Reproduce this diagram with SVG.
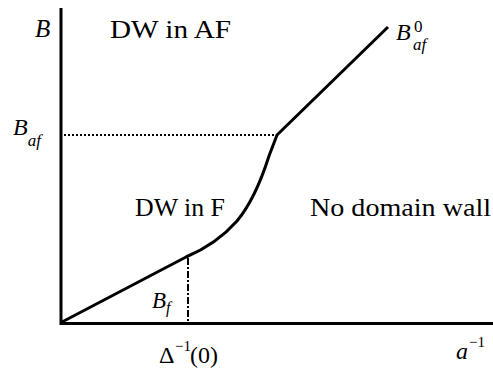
<svg xmlns="http://www.w3.org/2000/svg" width="493" height="369" viewBox="0 0 493 369">
<style>
.ax{stroke:#000;stroke-width:3;fill:none}
.cv{stroke:#000;stroke-width:3;fill:none;stroke-linejoin:miter}
text{font-family:"Times New Roman",Times,"Liberation Serif","Nimbus Roman","Nimbus Roman No9 L","Noto Serif","DejaVu Serif",FreeSerif,Tinos,serif;fill:#000}
</style>
<rect width="493" height="369" fill="#fff"/>
<g id="axes">
<line class="ax" x1="61" y1="8" x2="61" y2="325"/>
<line class="ax" x1="60" y1="323.5" x2="493" y2="323.5"/>
</g>
<g id="connectors">
<path class="cv" d="M62,322 L186,257 C205,249 222,238 237,221 C252,203 262,178 269,156 L277,135 L388,27"/>
<line x1="64" y1="135" x2="276" y2="135" stroke="#000" stroke-width="2" stroke-dasharray="2,2"/>
<line x1="188" y1="258" x2="188" y2="322" stroke="#000" stroke-width="2" stroke-dasharray="7,2,2,2"/>
</g>
<g id="labels">
<text font-style="italic" x="35" y="37" font-size="25">B</text>
<text x="110" y="38" font-size="26" textLength="121" lengthAdjust="spacingAndGlyphs">DW in AF</text>
<text x="135" y="216" font-size="26" textLength="90" lengthAdjust="spacingAndGlyphs">DW in F</text>
<text x="310" y="216" font-size="26" textLength="181" lengthAdjust="spacingAndGlyphs">No domain wall</text>
<text font-style="italic" x="13" y="135" font-size="24">B<tspan font-size="17" dy="11">af</tspan></text>
<text font-style="italic" x="396" y="40" font-size="24">B</text>
<text x="414" y="32" font-size="17">0</text>
<text font-style="italic" x="413" y="50" font-size="17">af</text>
<text font-style="italic" x="152" y="308" font-size="23">B<tspan font-size="16" dy="5">f</tspan></text>
<text x="159" y="363" font-size="24">Δ</text>
<text x="175" y="351" font-size="15">−1</text>
<text x="190" y="363" font-size="24">(0)</text>
<text font-style="italic" x="456" y="359" font-size="24">a</text>
<text x="469" y="347" font-size="15">−1</text>
</g>
</svg>
